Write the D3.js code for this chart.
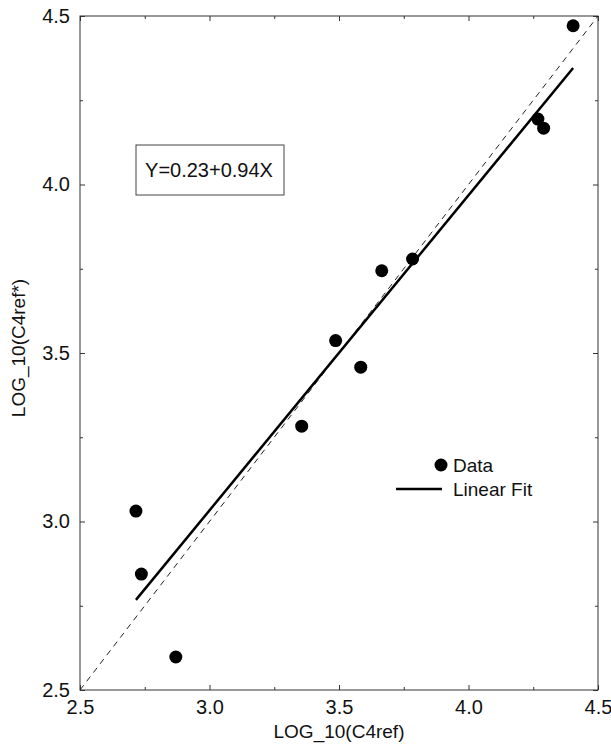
<!DOCTYPE html>
<html>
<head>
<meta charset="utf-8">
<script src="https://cdn.jsdelivr.net/npm/d3@7"></script>
<style>
  body { margin: 0; background: #fff; }
  text { font-family: "Liberation Sans", Arial, Helvetica, sans-serif; fill: #111; }
</style>
</head>
<body>
<div id="chart"></div>
<script>
// observed values (log10 C4ref vs log10 C4ref*)
const xVals = [2.716, 2.737, 2.870, 3.356, 3.487, 3.584, 3.665, 3.784, 4.268, 4.290, 4.404];
const yVals = [3.031, 2.844, 2.598, 3.283, 3.537, 3.458, 3.744, 3.779, 4.194, 4.167, 4.471];

const fitIntercept = 0.228, fitSlope = 0.935;
const fitLabel = 'Y=0.23+0.94X';

const majorTicks = [2.5, 3.0, 3.5, 4.0, 4.5];
const minorTicks = [2.75, 3.25, 3.75, 4.25];

const xTitle = 'LOG_10(C4ref)';
const yTitle = 'LOG_10(C4ref*)';
const legendLabels = ['Data', 'Linear Fit'];

const width = 611, height = 746;
const margin = { top: 16, right: 13, bottom: 56, left: 80 };
const plotW = width - margin.left - margin.right,
      plotH = height - margin.top - margin.bottom;

const svg = d3.select('#chart')
    .append('svg')
    .attr('width', width)
    .attr('height', height);

const g = svg.append('g')
    .attr('transform', `translate(${margin.left},${margin.top})`);

const x = d3.scaleLinear().domain([2.5, 4.5]).range([0, plotW]);
const y = d3.scaleLinear().domain([2.5, 4.5]).range([plotH, 0]);

const fmt = d3.format('.1f');

// frame
g.append('rect')
    .attr('width', plotW)
    .attr('height', plotH)
    .attr('fill', 'none')
    .attr('stroke', '#333')
    .attr('stroke-width', 1);

function addAxis(axis, tr, labels) {
    const a = g.append('g').attr('transform', tr).call(axis);
    a.select('.domain').remove();
    a.selectAll('line').attr('stroke', '#333');
    a.selectAll('text')
        .style('font-size', '20px')
        .attr('fill', '#111');
    if (!labels) a.selectAll('text').remove();
    return a;
}

// major ticks (inward) with labels on left & bottom
addAxis(d3.axisBottom(x).tickValues(majorTicks).tickSize(-5).tickPadding(10).tickFormat(fmt),
    `translate(0,${plotH})`, true);
addAxis(d3.axisLeft(y).tickValues(majorTicks).tickSize(-5).tickPadding(10).tickFormat(fmt),
    'translate(0,0)', true);
addAxis(d3.axisTop(x).tickValues(majorTicks).tickSize(-5), 'translate(0,0)', false);
addAxis(d3.axisRight(y).tickValues(majorTicks).tickSize(-5), `translate(${plotW},0)`, false);

// minor ticks
addAxis(d3.axisBottom(x).tickValues(minorTicks).tickSize(-3), `translate(0,${plotH})`, false);
addAxis(d3.axisLeft(y).tickValues(minorTicks).tickSize(-3), 'translate(0,0)', false);
addAxis(d3.axisTop(x).tickValues(minorTicks).tickSize(-3), 'translate(0,0)', false);
addAxis(d3.axisRight(y).tickValues(minorTicks).tickSize(-3), `translate(${plotW},0)`, false);

// 1:1 reference line
g.append('line')
    .attr('x1', x(2.5)).attr('y1', y(2.5))
    .attr('x2', x(4.5)).attr('y2', y(4.5))
    .attr('stroke', '#222')
    .attr('stroke-width', 1)
    .attr('stroke-dasharray', '6,5');

// linear fit across the data range
const xMin = d3.min(xVals), xMax = d3.max(xVals);
g.append('line')
    .attr('x1', x(xMin)).attr('y1', y(fitIntercept + fitSlope * xMin))
    .attr('x2', x(xMax)).attr('y2', y(fitIntercept + fitSlope * xMax))
    .attr('stroke', '#000')
    .attr('stroke-width', 2.5);

// data points
g.selectAll('circle.pt')
    .data(xVals.map((d, i) => [d, yVals[i]]))
    .enter()
    .append('circle')
    .attr('class', 'pt')
    .attr('cx', d => x(d[0]))
    .attr('cy', d => y(d[1]))
    .attr('r', 6.5)
    .attr('fill', '#000');

// equation box
const eq = g.append('g').attr('transform', 'translate(56,129)');
eq.append('rect')
    .attr('width', 148)
    .attr('height', 50)
    .attr('fill', '#fff')
    .attr('stroke', '#444')
    .attr('stroke-width', 1);
eq.append('text')
    .attr('x', 73)
    .attr('y', 32)
    .attr('text-anchor', 'middle')
    .style('font-size', '20px')
    .text(fitLabel);

// legend
const lg = g.append('g').attr('transform', 'translate(316,449)');
lg.append('circle').attr('cx', 45).attr('cy', 0).attr('r', 6.5).attr('fill', '#000');
lg.append('text').attr('x', 57).attr('y', 7).style('font-size', '19px').text(legendLabels[0]);
lg.append('line')
    .attr('x1', 0).attr('x2', 46)
    .attr('y1', 24).attr('y2', 24)
    .attr('stroke', '#000').attr('stroke-width', 2.5);
lg.append('text').attr('x', 57).attr('y', 31).style('font-size', '19px').text(legendLabels[1]);

// axis titles
svg.append('text')
    .attr('x', margin.left + plotW / 2)
    .attr('y', 738)
    .attr('text-anchor', 'middle')
    .style('font-size', '19px')
    .text(xTitle);

svg.append('text')
    .attr('transform', `translate(25,${margin.top + plotH / 2 - 5}) rotate(-90)`)
    .attr('text-anchor', 'middle')
    .style('font-size', '19px')
    .text(yTitle);
</script>
</body>
</html>
